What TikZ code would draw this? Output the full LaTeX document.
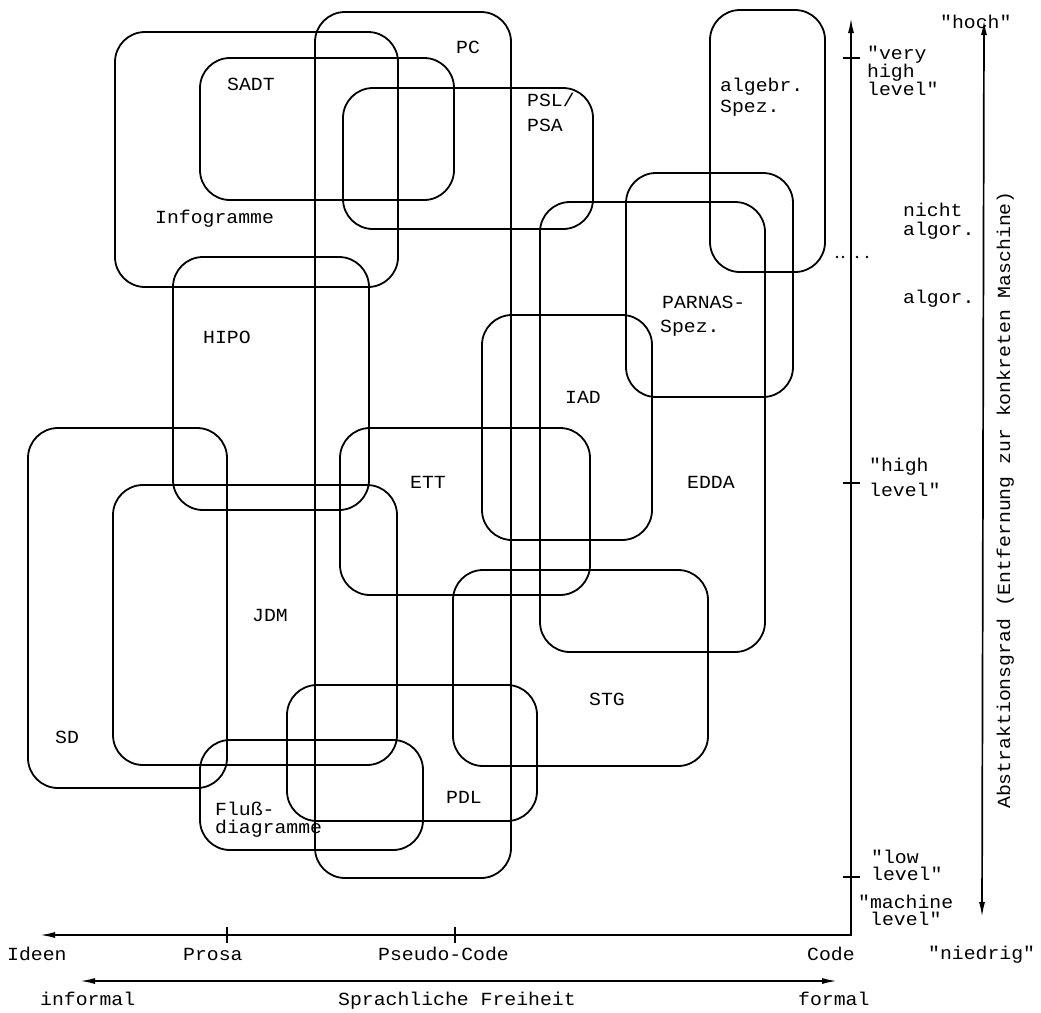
\documentclass[tikz,border=0pt]{standalone}
\usepackage{fontspec}
\setmainfont{Liberation Mono}[Ligatures=TeXOff, FakeStretch=1.07]
\usetikzlibrary{arrows.meta}

\begin{document}
\begin{tikzpicture}[x=1pt,y=-1pt,
  region/.style={draw, line width=1.8pt, rounded corners=30pt},
  lbl/.style={anchor=base west, inner sep=0pt, font=\fontsize{18.5}{18.5}\selectfont},
  axis/.style={line width=1.7pt},
  tick/.style={line width=1.7pt},
  dtip/.style={{Latex[length=15pt,width=6pt]}-{Latex[length=15pt,width=6pt]}}
]
\useasboundingbox (0,0) rectangle (1041,1012);

% ---- method regions ----
\draw[region] (115,32)  rectangle (398,287);  % Infogramme
\draw[region] (200,58)  rectangle (454,200);  % SADT
\draw[region] (315,12)  rectangle (511,878);  % PC
\draw[region] (343,88)  rectangle (593,229);  % PSL/PSA
\draw[region] (710,10)  rectangle (825,272);  % algebr. Spez.
\draw[region] (626,173) rectangle (793,397);  % PARNAS-Spez.
\draw[region] (540,202) rectangle (765,652);  % EDDA
\draw[region] (173,257) rectangle (369,510);  % HIPO
\draw[region] (482,315) rectangle (652,540);  % IAD
\draw[region] (340,428) rectangle (590,595);  % ETT
\draw[region] (28,428)  rectangle (227,788);  % SD
\draw[region] (113,485) rectangle (397,765);  % JDM
\draw[region] (453,570) rectangle (708,766);  % STG
\draw[region] (287,685) rectangle (537,821);  % PDL
\draw[region] (200,740) rectangle (423,850);  % Flussdiagramme

% ---- region labels ----
\node[lbl] (sadt)  at (227,90)  {SADT};
\node[lbl] (pc)    at (456,53)  {PC};
\node[lbl] (info)  at (155,223) {Infogramme};
\node[lbl] (psl)   at (527,106) {PSL/};
\node[lbl] (psa)   at (527,131) {PSA};
\node[lbl] (alg1)  at (720,91)  {algebr.};
\node[lbl] (alg2)  at (720,112) {Spez.};
\node[lbl] (par1)  at (662,308) {PARNAS-};
\node[lbl] (par2)  at (660,332) {Spez.};
\node[lbl] (hipo)  at (203,343) {HIPO};
\node[lbl] (ett)   at (410,488) {ETT};
\node[lbl] (iad)   at (565,403) {IAD};
\node[lbl] (edda)  at (687,488) {EDDA};
\node[lbl] (jdm)   at (252,621) {JDM};
\node[lbl] (sd)    at (55,743)  {SD};
\node[lbl] (stg)   at (589,705) {STG};
\node[lbl] (pdl)   at (446,803) {PDL};
\node[lbl] (flu1)  at (215,815) {Fluß-};
\node[lbl] (flu2)  at (215,833) {diagramme};

% ---- axes ----
\coordinate (vtop)   at (851,18);
\coordinate (corner) at (851,935);
\coordinate (hleft)  at (40,935);
\draw[axis, dtip] (vtop) -- (corner) -- (hleft);

% ticks on the vertical axis
\draw[tick] (843,58)  -- (860,58);
\draw[tick] (843,483) -- (860,483);
\draw[tick] (843,877) -- (860,877);
% ticks on the horizontal axis
\draw[tick] (227,927) -- (227,943);
\draw[tick] (455,927) -- (455,943);
% dotted separator between algorithmic and non-algorithmic
\foreach \dx in {837,843,857,867} \fill (\dx,257) circle (1.3pt);

% vertical axis labels
\node[lbl] (vh1) at (867,59) {"very};
\node[lbl] (vh2) at (867,77) {high};
\node[lbl] (vh3) at (867,95) {level"};
\node[lbl] (na1) at (903,216) {nicht};
\node[lbl] (na2) at (903,235) {algor.};
\node[lbl] (alg) at (903,303) {algor.};
\node[lbl] (hl1) at (869,471) {"high};
\node[lbl] (hl2) at (869,496) {level"};
\node[lbl] (ll1) at (871,863) {"low};
\node[lbl] (ll2) at (871,880) {level"};
\node[lbl] (ml1) at (858,908) {"machine};
\node[lbl] (ml2) at (870,925) {level"};

% horizontal axis labels
\node[lbl] (ideen)  at (7,960)   {Ideen};
\node[lbl] (prosa)  at (183,960) {Prosa};
\node[lbl] (pseudo) at (378,960) {Pseudo-Code};
\node[lbl] (code)   at (807,960) {Code};

% abstraction scale
\coordinate (hoch)  at (984,20);
\coordinate (nied)  at (982,917);
\draw[axis, dtip] (hoch) -- (nied);
\node[lbl] (hochl) at (940,28)  {"hoch"};
\node[lbl] (niedl) at (928,959) {"niedrig"};
\node[anchor=base, inner sep=0pt, rotate=90, font=\fontsize{18.5}{18.5}\selectfont]
  (abst) at (1010,500) {Abstraktionsgrad (Entfernung zur konkreten Maschine)};

% linguistic freedom scale
\coordinate (infl) at (80,981);
\coordinate (form) at (837,981);
\draw[axis, dtip] (infl) -- (form);
\node[lbl] (informal) at (40,1005)  {informal};
\node[lbl] (sprach)   at (338,1005) {Sprachliche Freiheit};
\node[lbl] (formal)   at (798,1005) {formal};
\end{tikzpicture}
\end{document}
